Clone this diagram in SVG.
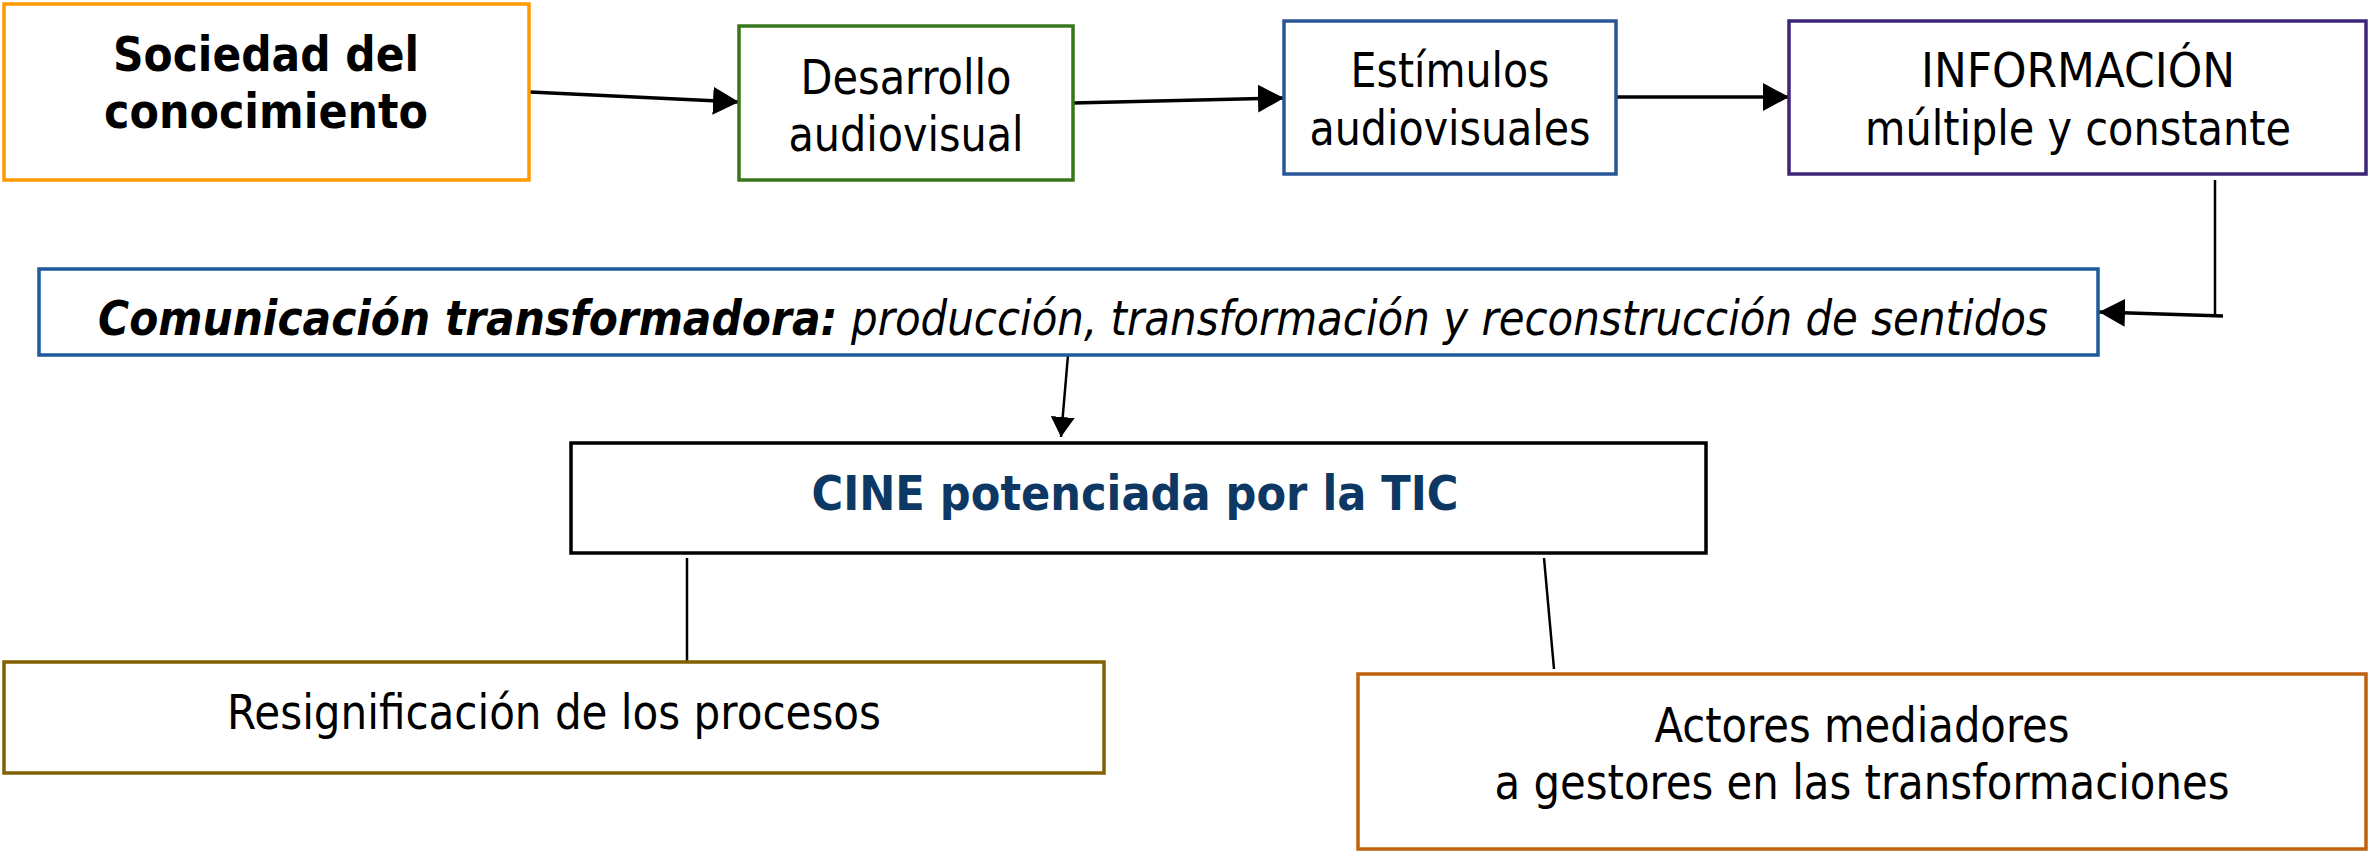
<svg xmlns="http://www.w3.org/2000/svg" width="2369" height="851" viewBox="0 0 2369 851">
<style>
.box{fill:#fff;stroke-width:3.5}
.t{font-family:"DejaVu Sans","Liberation Sans",sans-serif;font-size:48px;fill:#000}
.b{font-weight:bold}
.i{font-style:italic}
.c{stroke:#000;stroke-width:3.5;fill:none}
.thin{stroke:#000;stroke-width:2.5;fill:none}
</style>
<defs>
<marker id="ah" viewBox="0 0 26 28" refX="26" refY="14" markerWidth="26" markerHeight="28" markerUnits="userSpaceOnUse" orient="auto">
<path d="M0,0 L26,14 L0,28 Z" fill="#000"/>
</marker>
<marker id="ahs" viewBox="0 0 20 24" refX="20" refY="12" markerWidth="20" markerHeight="24" markerUnits="userSpaceOnUse" orient="auto">
<path d="M0,0 L20,12 L0,24 Z" fill="#000"/>
</marker>
</defs>
<rect width="2369" height="851" fill="#fff"/>
<g id="connectors">
<line class="c" x1="530" y1="92" x2="739" y2="102" marker-end="url(#ah)"/>
<line class="c" x1="1073" y1="103" x2="1284" y2="98" marker-end="url(#ah)"/>
<line class="c" x1="1616" y1="97" x2="1789" y2="97" marker-end="url(#ah)"/>
<polyline class="thin" points="2215,180 2215,316"/>
<line class="c" x1="2223" y1="316" x2="2099" y2="312" marker-end="url(#ah)"/>
<line class="thin" x1="1068" y1="355" x2="1061" y2="437" marker-end="url(#ahs)"/>
<line class="thin" x1="687" y1="558" x2="687" y2="669"/>
<line class="thin" x1="1544" y1="558" x2="1554" y2="669"/>
</g>
<g id="sociedad">
<rect class="box" x="4" y="4" width="525" height="176" stroke="#ff9900"/>
<text class="t b" x="266" y="71" text-anchor="middle" font-size="50" textLength="306" lengthAdjust="spacingAndGlyphs">Sociedad del</text>
<text class="t b" x="266" y="128" text-anchor="middle" font-size="50" textLength="324" lengthAdjust="spacingAndGlyphs">conocimiento</text>
</g>
<g id="desarrollo">
<rect class="box" x="739" y="26" width="334" height="154" stroke="#38761d"/>
<text class="t" x="906" y="94" text-anchor="middle" textLength="211" lengthAdjust="spacingAndGlyphs">Desarrollo</text>
<text class="t" x="906" y="151" text-anchor="middle" textLength="235" lengthAdjust="spacingAndGlyphs">audiovisual</text>
</g>
<g id="estimulos">
<rect class="box" x="1284" y="21" width="332" height="153" stroke="#2a5597"/>
<text class="t" x="1450" y="87" text-anchor="middle" textLength="199" lengthAdjust="spacingAndGlyphs">Estímulos</text>
<text class="t" x="1450" y="145" text-anchor="middle" textLength="281" lengthAdjust="spacingAndGlyphs">audiovisuales</text>
</g>
<g id="informacion">
<rect class="box" x="1789" y="21" width="577" height="153" stroke="#3c2478"/>
<text class="t" x="2078" y="87" text-anchor="middle" textLength="314" lengthAdjust="spacingAndGlyphs">INFORMACIÓN</text>
<text class="t" x="2078" y="145" text-anchor="middle" textLength="426" lengthAdjust="spacingAndGlyphs">múltiple y constante</text>
</g>
<g id="comunicacion">
<rect class="box" x="39" y="269" width="2059" height="86" stroke="#1f5a9a"/>
<text class="t b i" transform="translate(98,335) scale(0.85,1)" x="0" y="0" font-size="50" textLength="870" lengthAdjust="spacingAndGlyphs">Comunicación transformadora:</text>
<text class="t i" transform="translate(851,335) scale(0.83,1)" x="0" y="0" textLength="1442" lengthAdjust="spacingAndGlyphs">producción, transformación y reconstrucción de sentidos</text>
</g>
<g id="cine">
<rect class="box" x="571" y="443" width="1135" height="110" stroke="#000"/>
<text class="t b" x="1135" y="510" text-anchor="middle" style="fill:#0d3863" textLength="647" lengthAdjust="spacingAndGlyphs">CINE potenciada por la TIC</text>
</g>
<g id="resignificacion">
<rect class="box" x="4" y="662" width="1100" height="111" stroke="#806000"/>
<text class="t" x="554" y="729" text-anchor="middle" textLength="654" lengthAdjust="spacingAndGlyphs">Resignificación de los procesos</text>
</g>
<g id="actores">
<rect class="box" x="1358" y="674" width="1008" height="175" stroke="#c0620d"/>
<text class="t" x="1862" y="742" text-anchor="middle" textLength="415" lengthAdjust="spacingAndGlyphs">Actores mediadores</text>
<text class="t" x="1862" y="799" text-anchor="middle" textLength="735" lengthAdjust="spacingAndGlyphs">a gestores en las transformaciones</text>
</g>
</svg>
